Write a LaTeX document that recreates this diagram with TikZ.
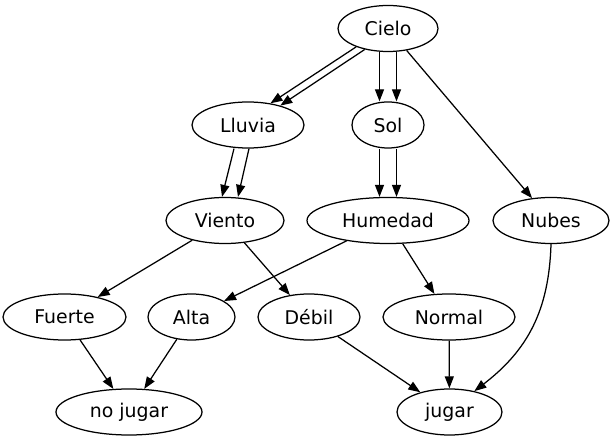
\documentclass[tikz,border=0pt]{standalone}
\usepackage{fontspec}
\setmainfont{DejaVu Sans}
\usetikzlibrary{shapes.geometric,arrows.meta}
\begin{document}
\begin{tikzpicture}[x=1pt,y=-1pt,
  nd/.style={ellipse,draw,line width=1.25pt,inner sep=0pt,minimum height=46pt,
    font=\fontsize{18.9}{22}\selectfont},
  ed/.style={line width=1.25pt,-{Triangle[length=12pt,width=9pt]}}]
\useasboundingbox (0,0) rectangle (616,443);
\node[nd,minimum width=100pt] (cielo) at (388,28.5) {Cielo};
\node[nd,minimum width=112pt] (lluvia) at (248,125) {Lluvia};
\node[nd,minimum width=72pt] (sol) at (388,125) {Sol};
\node[nd,minimum width=118pt] (viento) at (225,220.5) {Viento};
\node[nd,minimum width=162pt] (humedad) at (388,220.5) {Humedad};
\node[nd,minimum width=116pt] (nubes) at (551,220.5) {Nubes};
\node[nd,minimum width=123pt] (fuerte) at (64.5,317) {Fuerte};
\node[nd,minimum width=87pt] (alta) at (191.5,317) {Alta};
\node[nd,minimum width=102pt] (debil) at (309,317) {Débil};
\node[nd,minimum width=132pt] (normal) at (449,317) {Normal};
\node[nd,minimum width=146pt] (nojugar) at (129,412) {no jugar};
\node[nd,minimum width=105pt] (jugar) at (449.5,412) {jugar};
% double edges
\draw[ed] (cielo.210) -- (lluvia.44);
\draw[ed] (cielo.222) -- (lluvia.31);
\draw[ed] ([xshift=-8.5pt]cielo.south) -- ([xshift=-8.5pt]sol.north);
\draw[ed] ([xshift=8.5pt]cielo.south) -- ([xshift=8.5pt]sol.north);
\draw[ed] ([xshift=-14pt]lluvia.south) -- ([xshift=-3pt]viento.north);
\draw[ed] ([xshift=1pt]lluvia.south) -- ([xshift=13pt]viento.north);
\draw[ed] ([xshift=-8.5pt]sol.south) -- ([xshift=-8.5pt]humedad.north);
\draw[ed] ([xshift=8.5pt]sol.south) -- ([xshift=8.5pt]humedad.north);
% single edges
\draw[ed] (cielo) -- (nubes);
\draw[ed] (viento) -- (fuerte);
\draw[ed] (viento) -- (debil);
\draw[ed] (humedad) -- (alta);
\draw[ed] (humedad) -- (normal);
\draw[ed] (fuerte) -- (nojugar);
\draw[ed] (alta) -- (nojugar);
\draw[ed] (debil) -- (jugar);
\draw[ed] (normal) -- (jugar);
\draw[ed] (nubes.south) .. controls (549,310) and (528,350) .. (jugar.40);
\end{tikzpicture}
\end{document}
